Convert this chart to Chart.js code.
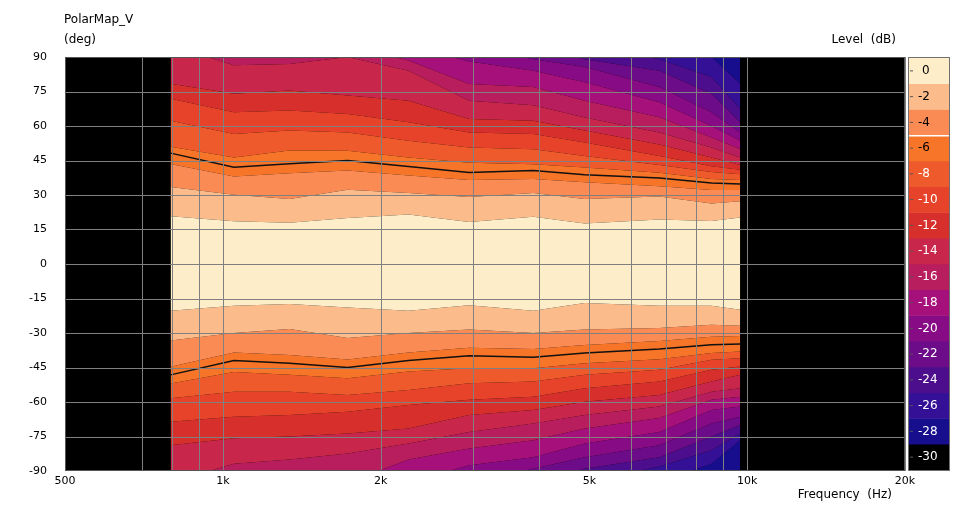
<!DOCTYPE html>
<html>
<head>
<meta charset="utf-8">
<script src="https://cdn.jsdelivr.net/npm/chart.js@4.4.1/dist/chart.umd.min.js"></script>
<style>
  body { margin: 0; background: #fff; }
  #wrap { position: relative; width: 967px; height: 506px; }
  #bar { position: absolute; left: 908px; top: 57px; width: 42px; height: 414px; border: 1px solid #707070; box-sizing: border-box; }
</style>
</head>
<body>
<div id="wrap">
  <canvas id="map" width="967" height="506"></canvas>
  <div id="bar"><canvas id="scale"></canvas></div>
</div>
<script>
// frequencies (Hz) where contours were read
var freqs = [795, 1050, 1340, 1730, 2260, 2950, 3910, 4900, 6800, 8550, 9700];

// upper half: angle (deg) where level drops past each band edge
var top0  = [20.8, 18.6, 17.9, 20, 21.5, 18.3, 20.5, 17.6, 19.3, 18.7, 20.2];
var top2  = [33.5, 30.1, 28.3, 32.3, 30.9, 29.1, 30.9, 28.3, 29.4, 26.3, 27.3];
var top4  = [43.5, 38, 39.5, 40.7, 38.5, 36.5, 37, 35.5, 33.8, 32.2, 32.2];
var top6  = [51, 46.3, 49.3, 49.2, 46.3, 44, 43.4, 42, 39.7, 37, 36.5];
var top8  = [62.3, 56.5, 58, 57.2, 53.6, 50.7, 49.9, 47, 43, 40, 39];
var top10 = [71.8, 66, 66.7, 65.2, 61.6, 57.2, 56.5, 52.8, 47, 42.5, 41];
var top12 = [78.4, 74, 75.4, 73.3, 71, 63, 62.3, 58, 52, 46.3, 43];
var top14 = [95, 86.4, 87, 90, 84, 71, 69, 63.7, 57.2, 50.7, 46.3];
var top16 = [95, 95, 95, 95, 88.5, 78.3, 77, 71, 63.8, 55, 50];
var top18 = [95, 95, 95, 95, 95, 88, 84, 79, 70.3, 60, 53.6];
var top20 = [95, 95, 95, 95, 95, 95, 89, 85.6, 77, 66, 57.2];
var top22 = [95, 95, 95, 95, 95, 95, 95, 89, 84, 74, 61.6];
var top24 = [95, 95, 95, 95, 95, 95, 95, 95, 89, 81.3, 67.4];
var top26 = [95, 95, 95, 95, 95, 95, 95, 95, 95, 90, 78.4];
var top28 = [95, 95, 95, 95, 95, 95, 95, 95, 95, 95, 95];
var topMinus6 = [48.2, 42.1, 43.6, 45, 42.4, 39.8, 40.7, 38.8, 37.4, 35.2, 34.8];

// lower half
var bot0  = [-20.3, -18.2, -17.4, -18.9, -20.3, -17.9, -20.3, -17, -18.2, -18.2, -19.9];
var bot2  = [-33.3, -30, -28.3, -32.2, -30, -28.5, -30, -28.5, -27.8, -26.4, -26.8];
var bot4  = [-44.7, -38.5, -39.6, -41.5, -38.5, -36.4, -37, -35.2, -33.5, -31.6, -31.3];
var bot6  = [-52, -47, -48.2, -49.7, -46.7, -45.3, -45.3, -43.1, -41.4, -38.7, -38];
var bot8  = [-58.4, -55.5, -55.5, -57, -54.8, -51.8, -51.1, -48.2, -46, -41.6, -41];
var bot10 = [-68.6, -66.4, -65.7, -64.2, -61.3, -59, -57.7, -54, -51.1, -46, -44.6];
var bot12 = [-78.8, -75.8, -75, -73.7, -71.5, -65.7, -63.5, -59.9, -57, -51.1, -48.2];
var bot14 = [-95, -86.8, -85, -82.4, -78, -73, -69.3, -65.7, -62, -55.5, -54];
var bot16 = [-95, -95, -95, -95, -85, -80.2, -76.6, -71.5, -67, -59, -57.7];
var bot18 = [-95, -95, -95, -95, -95, -87.5, -84, -78, -73, -63.5, -62];
var bot20 = [-95, -95, -95, -95, -95, -95, -89, -84, -78.8, -69.3, -66.4];
var bot22 = [-95, -95, -95, -95, -95, -95, -95, -89, -84, -75, -70];
var bot24 = [-95, -95, -95, -95, -95, -95, -95, -95, -88, -81, -73.7];
var bot26 = [-95, -95, -95, -95, -95, -95, -95, -95, -95, -86.8, -76.6];
var bot28 = [-95, -95, -95, -95, -95, -95, -95, -95, -95, -95, -95];
var botMinus6 = [-48.2, -42, -43.1, -45, -42, -39.9, -40.5, -38.7, -37, -35.1, -34.8];

var levels = [0, -2, -4, -6, -8, -10, -12, -14, -16, -18, -20, -22, -24, -26, -28, -30];
var colors = ['#fdedc8', '#fbbb8a', '#fb8b55', '#f67528', '#ee5a2b', '#e6432a', '#d7302c', '#c8264a',
              '#b81d5e', '#a6107a', '#880b86', '#6c0c88', '#4d0e8d', '#341097', '#160e8c', '#000000'];

var gridFreqs = [500, 700, 800, 900, 1000, 2000, 3000, 4000, 5000, 6000, 7000, 8000, 9000, 10000, 20000];
var freqLabels = { 500: '500', 1000: '1k', 2000: '2k', 5000: '5k', 10000: '10k', 20000: '20k' };

var topEdges = [top0, top2, top4, top6, top8, top10, top12, top14, top16, top18, top20, top22, top24, top26, top28];
var botEdges = [bot0, bot2, bot4, bot6, bot8, bot10, bot12, bot14, bot16, bot18, bot20, bot22, bot24, bot26, bot28];

function pts(arr) {
    return freqs.map(function (f, i) { return { x: f, y: arr[i] }; });
}
function line(arr, fill, color) {
    return { data: pts(arr), borderWidth: 0, pointRadius: 0, tension: 0, fill: fill, backgroundColor: color, order: 5 };
}

var datasets = [];
// 0..14 top edges, 15..29 bottom edges
topEdges.forEach(function (e) { datasets.push(line(e, false, 'transparent')); });
botEdges.forEach(function (e) { datasets.push(line(e, false, 'transparent')); });
// cream band between bot0 and top0
datasets[0].fill = 15;
datasets[0].backgroundColor = colors[0];
for (var k = 1; k < 15; k++) {
    datasets[k].fill = k - 1;
    datasets[k].backgroundColor = colors[k];
    datasets[15 + k].fill = 15 + k - 1;
    datasets[15 + k].backgroundColor = colors[k];
}
datasets.push(line(top28.map(function () { return 95; }), 14, colors[15]));
datasets.push(line(bot28.map(function () { return -95; }), 29, colors[15]));
// -6 dB contour
[topMinus6, botMinus6].forEach(function (e) {
    datasets.push({ data: pts(e), borderColor: '#111', borderWidth: 1.5, pointRadius: 0, tension: 0, fill: false, order: -1 });
});

var chartBg = {
    id: 'chartBg',
    beforeDraw: function (chart) {
        var a = chart.chartArea, c = chart.ctx;
        c.save();
        c.fillStyle = '#000';
        c.fillRect(a.left, a.top, a.right - a.left, a.bottom - a.top);
        c.restore();
    },
    afterDatasetsDraw: function (chart) {
        var c = chart.ctx, a = chart.chartArea, x = chart.scales.x, y = chart.scales.y;
        c.save();
        c.strokeStyle = '#808080';
        c.lineWidth = 1;
        c.beginPath();
        gridFreqs.forEach(function (f) {
            var px = Math.round(x.getPixelForValue(f)) + 0.5;
            c.moveTo(px, a.top); c.lineTo(px, a.bottom);
        });
        for (var v = -75; v <= 75; v += 15) {
            var py = Math.round(y.getPixelForValue(v)) + 0.5;
            c.moveTo(a.left, py); c.lineTo(a.right, py);
        }
        c.stroke();
        c.restore();
    },
    afterDraw: function (chart) {
        var c = chart.ctx, a = chart.chartArea;
        c.save();
        c.fillStyle = '#000';
        c.font = '12px "DejaVu Sans"';
        c.textBaseline = 'middle';
        c.fillText('PolarMap_V', 64, 20);
        c.fillText('(deg)', 64, 40);
        c.textAlign = 'right';
        c.fillText('Level  (dB)', 896, 40);
        c.fillText('Frequency  (Hz)', 892, 495);
        c.strokeStyle = '#555';
        c.lineWidth = 1;
        c.strokeRect(a.left + 0.5, a.top + 0.5, a.right - a.left - 1, a.bottom - a.top - 1);
        c.restore();
    }
};

new Chart(document.getElementById('map'), {
    type: 'line',
    data: { datasets: datasets },
    options: {
        responsive: false,
        animation: false,
        layout: { padding: { left: 0, right: 62, top: 57, bottom: 0 } },
        plugins: { legend: { display: false }, tooltip: { enabled: false }, filler: { propagate: false } },
        scales: {
            x: {
                type: 'logarithmic', min: 500, max: 20000,
                afterBuildTicks: function (s) { s.ticks = gridFreqs.map(function (v) { return { value: v }; }); },
                afterFit: function (s) { s.height = 35; },
                grid: { display: false },
                border: { display: false },
                ticks: {
                    autoSkip: false, maxRotation: 0, padding: -4, color: '#000',
                    font: { family: 'DejaVu Sans', size: 11 },
                    callback: function (v) { return freqLabels[v] || ''; }
                }
            },
            y: {
                min: -90, max: 90,
                afterFit: function (s) { s.width = 65; },
                grid: { display: false },
                border: { display: false },
                ticks: { stepSize: 15, padding: 10, color: '#000', font: { family: 'DejaVu Sans', size: 11 } }
            }
        }
    },
    plugins: [chartBg]
});

// colour scale legend
var scaleLabels = {
    id: 'scaleLabels',
    afterDraw: function (chart) {
        var c = chart.ctx, y = chart.scales.y;
        c.save();
        c.font = '12px "DejaVu Sans"';
        c.textBaseline = 'middle';
        levels.forEach(function (lv, i) {
            var py = y.getPixelForValue(lv);
            c.fillStyle = '#555';
            c.fillRect(1, py - 0.5, 3, 1);
            c.fillStyle = i < 4 ? '#000' : '#fff';
            c.fillText(String(lv), lv === 0 ? 13 : 9, py);
        });
        var wy = Math.round(y.getPixelForValue(-5));
        c.fillStyle = '#fff';
        c.fillRect(0, wy, chart.width, 1.5);
        c.restore();
    }
};

new Chart(document.getElementById('scale'), {
    type: 'bar',
    data: {
        labels: ['L'],
        datasets: levels.map(function (lv, i) {
            return { data: [[lv - 1, lv + 1]], backgroundColor: colors[i], barPercentage: 1, categoryPercentage: 1, grouped: false };
        })
    },
    options: {
        responsive: true, maintainAspectRatio: false, animation: false,
        layout: { padding: 0 },
        plugins: { legend: { display: false }, tooltip: { enabled: false } },
        scales: {
            x: { display: false },
            y: { display: false, min: -31, max: 1 }
        }
    },
    plugins: [scaleLabels]
});
</script>
</body>
</html>
